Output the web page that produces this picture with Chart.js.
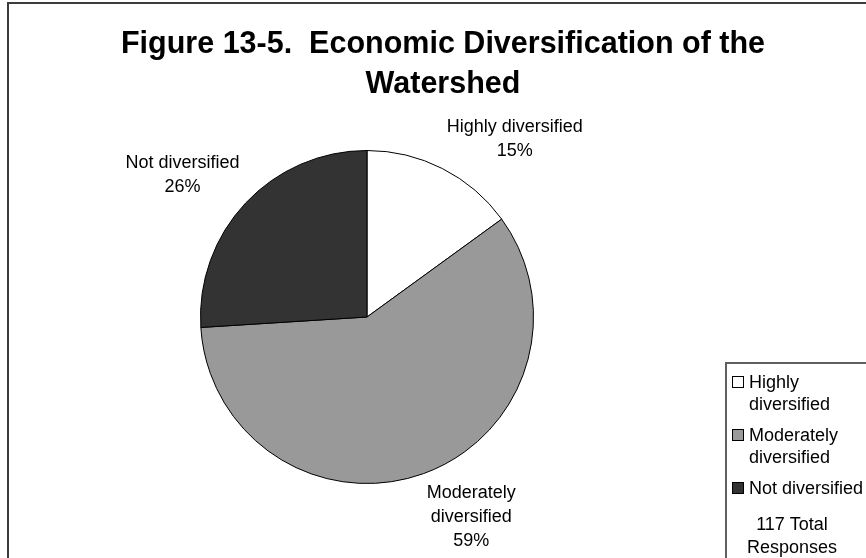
<!DOCTYPE html>
<html lang="en">
  <head>
    <meta charset="UTF-8" />
    <title>Economic Diversification of the Watershed</title>
    <script src="https://cdn.jsdelivr.net/npm/chart.js"></script>
    <style>
      body {
        margin: 0;
        background: #ffffff;
      }
      .chart-container {
        width: 866px;
        height: 558px;
      }
    </style>
  </head>
  <body>
    <div class="chart-container"><canvas id="pieChart"></canvas></div>

    <script>
      // Chart data
      const categories = ["Highly diversified", "Moderately diversified", "Not diversified"];
      const percents = [15, 59, 26];
      const sliceColors = ["#ffffff", "#999999", "#333333"];
      const totalResponses = 117;
      const titleLines = ["Figure 13-5.  Economic Diversification of the", "Watershed"];

      // how the names wrap next to the pie and in the legend
      const sliceLabelLines = [["Highly diversified"], ["Moderately", "diversified"], ["Not diversified"]];
      const legendLines = [["Highly", "diversified"], ["Moderately", "diversified"], ["Not diversified"]];

      const FONT = "Arial, 'Liberation Sans', sans-serif";

      // Draws frame, title, outside labels and the legend box
      const decorPlugin = {
        id: "decor",
        afterDraw(chart) {
          const ctx = chart.ctx;
          ctx.save();

          // outer frame (right and bottom fall outside the picture)
          ctx.strokeStyle = "#3c3c3c";
          ctx.lineWidth = 2;
          ctx.beginPath();
          ctx.moveTo(8, 600);
          ctx.lineTo(8, 3);
          ctx.lineTo(900, 3);
          ctx.stroke();

          // title
          ctx.fillStyle = "#000";
          ctx.textAlign = "center";
          ctx.textBaseline = "alphabetic";
          ctx.font = "bold 30.5px " + FONT;
          ctx.fillText(titleLines[0], 443, 53);
          ctx.fillText(titleLines[1], 443, 93);

          // slice labels, the inner corner of each label sits on the mid angle
          const meta = chart.getDatasetMeta(0);
          ctx.font = "18px " + FONT;
          const lineH = 24;
          meta.data.forEach((arc, i) => {
            const mid = (arc.startAngle + arc.endAngle) / 2;
            const dx = Math.cos(mid);
            const dy = Math.sin(mid);
            const r = arc.outerRadius + 7;
            const ax = arc.x + r * dx;
            const ay = arc.y + r * dy;
            const lines = sliceLabelLines[i].concat([percents[i] + "%"]);
            const w = Math.max(...lines.map((t) => ctx.measureText(t).width)) + 2;
            const h = lines.length * lineH;
            const left = dx >= 0 ? ax : ax - w;
            const top = dy >= 0 ? ay : ay - h;
            lines.forEach((t, j) => {
              ctx.fillText(t, left + w / 2, top + 17.5 + j * lineH);
            });
          });

          // legend box
          ctx.strokeStyle = "#606060";
          ctx.lineWidth = 2;
          ctx.strokeRect(726, 363, 200, 260);

          ctx.textAlign = "left";
          let y = 388;
          legendLines.forEach((lines, i) => {
            ctx.fillStyle = sliceColors[i];
            ctx.fillRect(732.5, y - 11.5, 11, 11);
            ctx.strokeStyle = "#000";
            ctx.lineWidth = 1;
            ctx.strokeRect(732.5, y - 11.5, 11, 11);
            ctx.fillStyle = "#000";
            lines.forEach((t, j) => {
              ctx.fillText(t, 749, y + j * 22);
            });
            y += (lines.length - 1) * 22 + 31;
          });

          ctx.textAlign = "center";
          ctx.fillText(totalResponses + " Total", 792, 530);
          ctx.fillText("Responses", 792, 553);

          ctx.restore();
        },
      };

      new Chart(document.getElementById("pieChart").getContext("2d"), {
        type: "pie",
        data: {
          labels: categories,
          datasets: [
            {
              data: percents,
              backgroundColor: sliceColors,
              borderColor: "#000000",
              borderWidth: 1,
            },
          ],
        },
        options: {
          responsive: true,
          maintainAspectRatio: false,
          animation: false,
          layout: {
            padding: { left: 200, right: 332, top: 150, bottom: 74 },
          },
          plugins: {
            legend: { display: false },
            title: { display: false },
            tooltip: { enabled: false },
          },
        },
        plugins: [decorPlugin],
      });
    </script>
  </body>
</html>
